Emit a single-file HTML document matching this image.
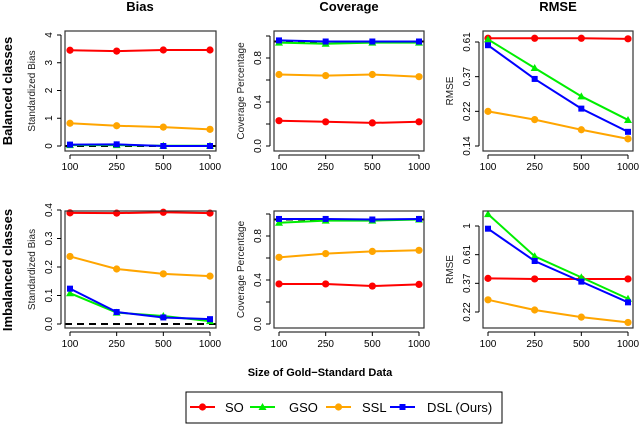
<!DOCTYPE html>
<html><head><meta charset="utf-8"><style>
body{margin:0;background:#fff;}
svg{display:block;font-family:"Liberation Sans",Arial,sans-serif;}
</style></head><body>
<svg id="chart" width="640" height="424" viewBox="0 0 640 424" xmlns="http://www.w3.org/2000/svg"></svg>
<script>
const categories = ["100","250","500","1000"];
const seriesNames = ["SO","GSO","SSL","DSL (Ours)"];
const seriesColors = ["#ff0000","#00ee00","#ffa500","#0000ff"];
// Balanced: Bias
const balBiasSO=[3.45,3.42,3.46,3.46], balBiasGSO=[0.03,0.03,0.01,0.01], balBiasSSL=[0.82,0.73,0.68,0.6], balBiasDSL=[0.05,0.06,0.0,0.0];
// Balanced: Coverage
const balCovSO=[0.23,0.22,0.21,0.22], balCovGSO=[0.94,0.93,0.94,0.94], balCovSSL=[0.65,0.64,0.65,0.63], balCovDSL=[0.96,0.95,0.95,0.95];
// Balanced: RMSE
const balRmseSO=[0.64,0.64,0.64,0.635], balRmseGSO=[0.63,0.417,0.277,0.197], balRmseSSL=[0.223,0.198,0.171,0.15], balRmseDSL=[0.579,0.356,0.232,0.166];
// Imbalanced: Bias
const impBiasSO=[0.39,0.389,0.392,0.389], impBiasGSO=[0.108,0.04,0.028,0.01], impBiasSSL=[0.237,0.193,0.176,0.168], impBiasDSL=[0.124,0.042,0.023,0.017];
// Imbalanced: Coverage
const impCovSO=[0.364,0.364,0.345,0.36], impCovGSO=[0.92,0.94,0.94,0.95], impCovSSL=[0.606,0.64,0.66,0.67], impCovDSL=[0.955,0.955,0.95,0.955];
// Imbalanced: RMSE
const impRmseSO=[0.401,0.397,0.397,0.397], impRmseGSO=[1.23,0.59,0.408,0.281], impRmseSSL=[0.276,0.231,0.204,0.186], impRmseDSL=[0.954,0.543,0.379,0.264];
const biasTicksTop=[0,1,2,3,4], biasTicksBot=[0,0.1,0.2,0.3,0.4];
const covTicks=[0,0.2,0.4,0.6,0.8,1.0], covLabels=["0.0","","0.4","","0.8",""];
const rmseTicksTop=[0.1353,0.2231,0.3679,0.6065], rmseLabelsTop=["0.14","0.22","0.37","0.61"];
const rmseTicksBot=[0.2231,0.3679,0.6065,1], rmseLabelsBot=["0.22","0.37","0.61","1"];

const svg=document.getElementById('chart');
const NS="http://www.w3.org/2000/svg";
function mk(tag,attrs,parent){const e=document.createElementNS(NS,tag);for(const k in attrs)e.setAttribute(k,attrs[k]);(parent||svg).appendChild(e);return e;}
function txt(s,x,y,opts,parent){const t=mk('text',Object.assign({x:x,y:y,'text-anchor':'middle','font-size':10},opts||{}),parent);t.textContent=s;return t;}

const cols=[{bx:65,bw:151,x0:70,x1:210},{bx:274,bw:150,x0:279,x1:419},{bx:483,bw:150,x0:488,x1:628}];
const rows=[{by:31,bh:120},{by:211,bh:117}];

const panels=[
 {r:0,c:0,name:'balanced-bias',data:[balBiasSO,balBiasGSO,balBiasSSL,balBiasDSL],ref:0,log:false,v0:0,p0:146,v1:4,p1:35,ticks:biasTicksTop,labels:["0","1","2","3","4"],ytitle:"Standardized Bias"},
 {r:0,c:1,name:'balanced-coverage',data:[balCovSO,balCovGSO,balCovSSL,balCovDSL],ref:0.95,log:false,v0:0,p0:146,v1:1,p1:36,ticks:covTicks,labels:covLabels,ytitle:"Coverage Percentage"},
 {r:0,c:2,name:'balanced-rmse',data:[balRmseSO,balRmseGSO,balRmseSSL,balRmseDSL],ref:null,log:true,v0:0.1353,p0:146,v1:0.6065,p1:42,ticks:rmseTicksTop,labels:rmseLabelsTop,ytitle:"RMSE"},
 {r:1,c:0,name:'imbalanced-bias',data:[impBiasSO,impBiasGSO,impBiasSSL,impBiasDSL],ref:0,log:false,v0:0,p0:324,v1:0.4,p1:210,ticks:biasTicksBot,labels:["0.0","0.1","0.2","0.3","0.4"],ytitle:"Standardized Bias"},
 {r:1,c:1,name:'imbalanced-coverage',data:[impCovSO,impCovGSO,impCovSSL,impCovDSL],ref:0.95,log:false,v0:0,p0:324,v1:1,p1:214,ticks:covTicks,labels:covLabels,ytitle:"Coverage Percentage"},
 {r:1,c:2,name:'imbalanced-rmse',data:[impRmseSO,impRmseGSO,impRmseSSL,impRmseDSL],ref:null,log:true,v0:0.2231,p0:312,v1:1,p1:226,ticks:rmseTicksBot,labels:rmseLabelsBot,ytitle:"RMSE"}
];

function marker(i,x,y,g,color){
  let m;
  if(i===0) m=mk('circle',{cx:x,cy:y,r:3.6,fill:color},g);
  else if(i===1) m=mk('polygon',{points:`${x},${y-4} ${x-4},${y+3} ${x+4},${y+3}`,fill:color},g);
  else if(i===2) m=mk('circle',{cx:x,cy:y,r:3.6,fill:color},g);
  else m=mk('rect',{x:x-3,y:y-3,width:6,height:6,fill:color},g);
  
  
}

panels.forEach(p=>{
  const C=cols[p.c],R=rows[p.r];
  const g=mk('g',{});
  
  
  const xs=i=>C.x0+(C.x1-C.x0)*i/(categories.length-1);
  const f=v=>p.log?Math.log(v):v;
  const ys=v=>p.p0+(f(v)-f(p.v0))*(p.p1-p.p0)/(f(p.v1)-f(p.v0));
  const by=R.by+R.bh;
  const xa=mk('g',{},g);
  mk('line',{x1:C.x0,x2:C.x1,y1:by+4,y2:by+4,stroke:'#000','stroke-width':1},xa);
  categories.forEach((c,i)=>{mk('line',{x1:xs(i),x2:xs(i),y1:by+4,y2:by+8,stroke:'#000'},xa);const t=txt(c,xs(i),by+19,{},xa);});
  const ya=mk('g',{},g);
  const ax=C.bx-4;
  mk('line',{x1:ax,x2:ax,y1:ys(p.ticks[0]),y2:ys(p.ticks[p.ticks.length-1]),stroke:'#000'},ya);
  p.ticks.forEach((v,i)=>{const y=ys(v);mk('line',{x1:ax-4,x2:ax,y1:y,y2:y,stroke:'#000'},ya);
    if(p.labels[i]){const t=txt(p.labels[i],0,0,{transform:`translate(${ax-9},${y}) rotate(-90)`},ya);}});
  const yt=txt(p.ytitle,0,0,{transform:`translate(${C.bx-30},${R.by+R.bh/2}) rotate(-90)`,fill:'#222'},g);
  
  if(p.ref!==null){const l=mk('line',{x1:C.bx,x2:C.bx+C.bw,y1:ys(p.ref),y2:ys(p.ref),stroke:'#000','stroke-width':2,'stroke-dasharray':'7,5'},g);}
  p.data.forEach((arr,si)=>{
    const sg=mk('g',{},g);
    mk('polyline',{points:arr.map((v,i)=>xs(i)+','+ys(v)).join(' '),fill:'none',stroke:seriesColors[si],'stroke-width':2},sg);
    arr.forEach((v,i)=>marker(si,xs(i),ys(v),sg,seriesColors[si]));
  });
  mk('rect',{x:C.bx,y:R.by,width:C.bw,height:R.bh,fill:'none',stroke:'#333','stroke-width':1.2},g);
});
[["Bias",140],["Coverage",349],["RMSE",558]].forEach(([s,x])=>{const t=txt(s,x,11,{'font-size':13,'font-weight':'bold'});});
[["Balanced classes",91],["Imbalanced classes",270]].forEach(([s,y])=>{const t=txt(s,0,0,{'font-size':13,'font-weight':'bold',transform:`translate(12,${y}) rotate(-90)`});});
const xt=txt("Size of Gold\u2212Standard Data",320,376,{'font-size':11,'font-weight':'bold'});

const lg=mk('g',{});
mk('rect',{x:186,y:392,width:316,height:31,fill:'#fff',stroke:'#000','stroke-width':1},lg);
const lx=[190,250,326,390], tx=[225,289,362,427];
seriesNames.forEach((n,i)=>{
  const e=mk('g',{},lg);
  mk('line',{x1:lx[i],x2:lx[i]+25,y1:407,y2:407,stroke:seriesColors[i],'stroke-width':2},e);
  marker(i,lx[i]+12.5,407,e,seriesColors[i]);
  txt(n,tx[i],412,{'font-size':13,'text-anchor':'start'},e);
});
</script>
</body></html>
